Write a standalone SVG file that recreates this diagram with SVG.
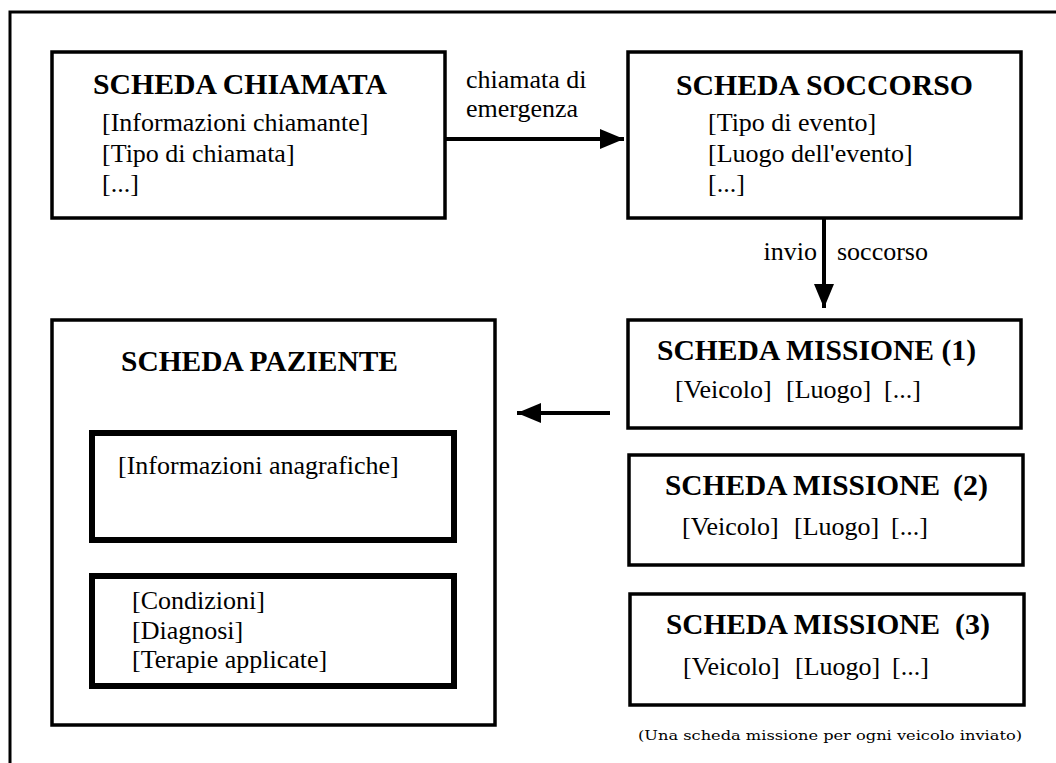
<svg xmlns="http://www.w3.org/2000/svg" width="1056" height="763" viewBox="0 0 1056 763">
<style>
.box{fill:#fff;stroke:#000;stroke-width:3.5}
.inner{fill:#fff;stroke:#000;stroke-width:6}
.title{font-family:"Liberation Serif","Times New Roman",serif;font-weight:bold;font-size:30px;fill:#000}
.body{font-family:"Liberation Serif","Times New Roman",serif;font-size:26px;fill:#000}
.lbl{font-family:"Liberation Serif","Times New Roman",serif;font-size:26px;fill:#000}
.note{font-family:"DejaVu Serif",serif;font-size:13px;fill:#000}
.conn{stroke:#000;stroke-width:4;fill:none}
</style>
<defs>
<marker id="ah" markerUnits="userSpaceOnUse" markerWidth="24" markerHeight="20" refX="24" refY="10" orient="auto">
<path d="M0,0 L24,10 L0,20 z" fill="#000"/>
</marker>
</defs>
<rect width="1056" height="763" fill="#fff"/>
<path d="M10,763 V12 H1056" fill="none" stroke="#000" stroke-width="3"/>

<g id="scheda-chiamata">
<rect class="box" x="52" y="52" width="393" height="166"/>
<text class="title" x="93" y="94" textLength="294" lengthAdjust="spacingAndGlyphs">SCHEDA CHIAMATA</text>
<text class="body" x="102" y="131">[Informazioni chiamante]</text>
<text class="body" x="102" y="162">[Tipo di chiamata]</text>
<text class="body" x="102" y="192">[...]</text>
</g>

<g id="scheda-soccorso">
<rect class="box" x="628" y="52" width="393" height="166"/>
<text class="title" x="676" y="95" textLength="297" lengthAdjust="spacingAndGlyphs">SCHEDA SOCCORSO</text>
<text class="body" x="708" y="131">[Tipo di evento]</text>
<text class="body" x="708" y="162">[Luogo dell'evento]</text>
<text class="body" x="708" y="192">[...]</text>
</g>

<g id="scheda-missione-1">
<rect class="box" x="628" y="320" width="393" height="108"/>
<text class="title" x="657" y="360" textLength="319" lengthAdjust="spacingAndGlyphs">SCHEDA MISSIONE (1)</text>
<text class="body" y="398"><tspan x="675">[Veicolo]</tspan><tspan x="786">[Luogo]</tspan><tspan x="884">[...]</tspan></text>
</g>

<g id="scheda-missione-2">
<rect class="box" x="629" y="455" width="394" height="110"/>
<text class="title" x="665" y="495" textLength="275" lengthAdjust="spacingAndGlyphs">SCHEDA MISSIONE</text>
<text class="title" x="953" y="495">(2)</text>
<text class="body" y="535"><tspan x="682">[Veicolo]</tspan><tspan x="794">[Luogo]</tspan><tspan x="891">[...]</tspan></text>
</g>

<g id="scheda-missione-3">
<rect class="box" x="630" y="594" width="394" height="111"/>
<text class="title" x="666" y="634" textLength="274" lengthAdjust="spacingAndGlyphs">SCHEDA MISSIONE</text>
<text class="title" x="955" y="634">(3)</text>
<text class="body" y="675"><tspan x="683">[Veicolo]</tspan><tspan x="795">[Luogo]</tspan><tspan x="892">[...]</tspan></text>
</g>

<g id="scheda-paziente">
<rect class="box" x="52" y="320" width="443" height="405"/>
<text class="title" x="121" y="371" textLength="277" lengthAdjust="spacingAndGlyphs">SCHEDA PAZIENTE</text>
<rect class="inner" x="92" y="433" width="362" height="107"/>
<text class="body" x="118" y="474">[Informazioni anagrafiche]</text>
<rect class="inner" x="92" y="576" width="362" height="110"/>
<text class="body" x="132" y="609">[Condizioni]</text>
<text class="body" x="132" y="639">[Diagnosi]</text>
<text class="body" x="132" y="668">[Terapie applicate]</text>
</g>

<g id="connectors">
<line class="conn" x1="446" y1="139" x2="624" y2="139" marker-end="url(#ah)"/>
<line class="conn" x1="824" y1="219" x2="824" y2="308" marker-end="url(#ah)"/>
<line class="conn" x1="610" y1="413" x2="517" y2="413" marker-end="url(#ah)"/>
<text class="lbl" x="466" y="88">chiamata di</text>
<text class="lbl" x="466" y="117">emergenza</text>
<text class="lbl" x="817" y="260" text-anchor="end">invio</text>
<text class="lbl" x="837" y="260">soccorso</text>
</g>

<text class="note" x="638" y="740" textLength="384" lengthAdjust="spacingAndGlyphs">(Una scheda missione per ogni veicolo inviato)</text>
</svg>
